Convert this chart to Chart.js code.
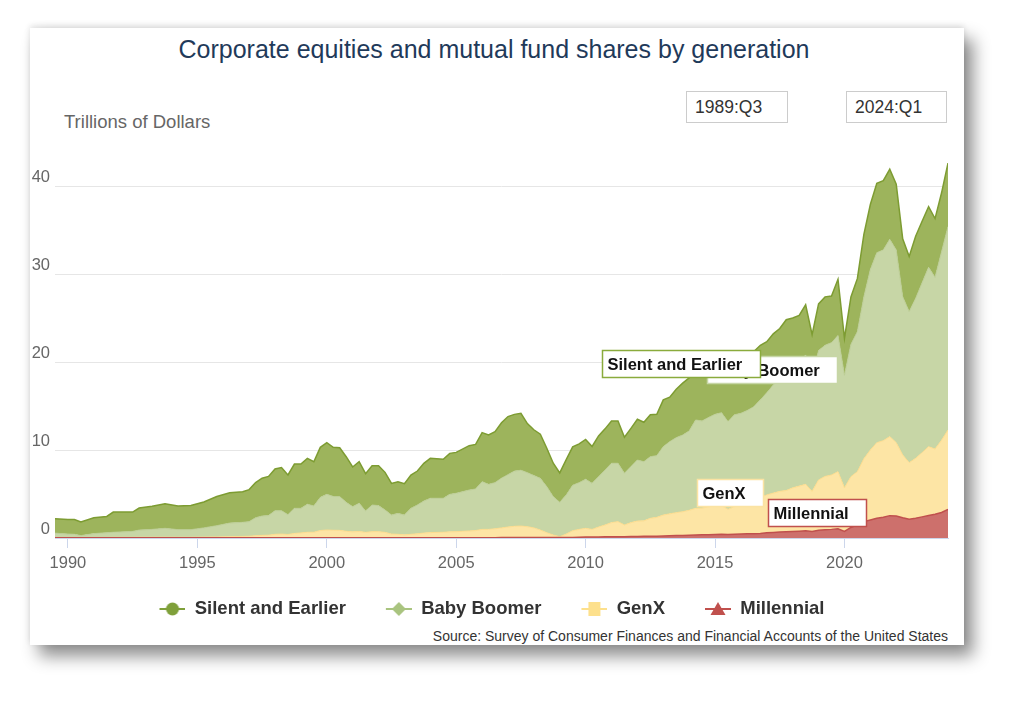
<!DOCTYPE html>
<html>
<head>
<meta charset="utf-8">
<title>Corporate equities and mutual fund shares by generation</title>
<script src="https://cdn.jsdelivr.net/npm/chart.js@4.4.1/dist/chart.umd.min.js"></script>
<style>
body{margin:0;width:1024px;height:706px;background:#fff;position:relative;overflow:hidden;font-family:"Liberation Sans",Arial,sans-serif;}
#card{position:absolute;left:30px;top:28px;width:934px;height:617px;background:#fff;
  box-shadow:0 -2px 6px rgba(0,0,0,0.12),9px 11px 16px rgba(0,0,0,0.45);}
#title{position:absolute;left:0;width:988px;top:34px;line-height:30px;text-align:center;font-size:25px;color:#1f3a5a;}
#unit{position:absolute;left:64px;top:111px;line-height:22px;font-size:18.5px;color:#666;}
.range{position:absolute;top:91px;height:30px;border:1px solid #ccc;font-size:17.5px;line-height:30px;color:#333;padding-left:8px;box-sizing:content-box;}
#source{position:absolute;right:76px;top:628px;font-size:14px;line-height:16px;color:#333;}
canvas{position:absolute;left:0;top:0;}
</style>
</head>
<body>
<div id="card"></div>
<div id="title">Corporate equities and mutual fund shares by generation</div>
<div id="unit">Trillions of Dollars</div>
<div class="range" style="left:686px;width:92px;">1989:Q3</div>
<div class="range" style="left:846px;width:91px;">2024:Q1</div>
<div id="source">Source: Survey of Consumer Finances and Financial Accounts of the United States</div>
<canvas id="chart" width="1024" height="706"></canvas>
<script>
// trillions of dollars
var quarters = ['1989:Q3','1990:Q1','1990:Q2','1990:Q3','1991:Q1','1991:Q3','1991:Q4','1992:Q3','1992:Q4','1993:Q2',
  '1993:Q4','1994:Q2','1994:Q4','1995:Q2','1995:Q4','1996:Q2','1996:Q4','1997:Q1','1997:Q2','1997:Q3',
  '1997:Q4','1998:Q1','1998:Q2','1998:Q3','1998:Q4','1999:Q1','1999:Q2','1999:Q3','1999:Q4','2000:Q1',
  '2000:Q2','2000:Q3','2000:Q4','2001:Q1','2001:Q2','2001:Q3','2001:Q4','2002:Q1','2002:Q2','2002:Q3',
  '2002:Q4','2003:Q1','2003:Q2','2003:Q3','2003:Q4','2004:Q1','2004:Q3','2004:Q4','2005:Q1','2005:Q3',
  '2005:Q4','2006:Q1','2006:Q2','2006:Q3','2006:Q4','2007:Q1','2007:Q2','2007:Q3','2007:Q4','2008:Q1',
  '2008:Q2','2008:Q3','2008:Q4','2009:Q1','2009:Q2','2009:Q3','2009:Q4','2010:Q1','2010:Q2','2010:Q3',
  '2010:Q4','2011:Q1','2011:Q2','2011:Q3','2011:Q4','2012:Q1','2012:Q2','2012:Q3','2012:Q4','2013:Q1',
  '2013:Q2','2013:Q3','2013:Q4','2014:Q1','2014:Q2','2014:Q3','2014:Q4','2015:Q1','2015:Q2','2015:Q3',
  '2015:Q4','2016:Q1','2016:Q2','2016:Q3','2016:Q4','2017:Q1','2017:Q2','2017:Q3','2017:Q4','2018:Q1',
  '2018:Q2','2018:Q3','2018:Q4','2019:Q1','2019:Q2','2019:Q3','2019:Q4','2020:Q1','2020:Q2','2020:Q3',
  '2020:Q4','2021:Q1','2021:Q2','2021:Q3','2021:Q4','2022:Q1','2022:Q2','2022:Q3','2022:Q4','2023:Q1',
  '2023:Q2','2023:Q3','2023:Q4','2024:Q1'];

var silent = [1.65,1.65,1.68,1.55,1.80,1.85,2.30,2.20,2.50,2.62,
  2.80,2.70,2.75,2.95,3.32,3.45,3.47,3.64,4.00,4.30,
  4.45,4.74,4.90,4.51,5.03,5.04,5.22,5.03,5.68,5.87,
  5.58,5.55,5.19,4.51,4.73,4.24,4.47,4.54,4.28,3.60,
  3.60,3.56,3.79,3.86,4.29,4.54,4.43,4.66,4.65,5.04,
  5.07,5.57,5.60,5.79,6.30,6.60,6.45,6.47,5.58,5.20,
  5.02,4.37,3.80,3.35,4.01,4.35,4.41,4.53,4.19,4.63,
  4.67,4.81,4.81,4.10,4.35,4.64,4.48,4.76,4.69,5.32,
  5.05,5.50,5.90,6.04,5.39,6.00,6.10,6.05,6.16,6.18,
  6.00,5.53,6.00,6.28,6.20,5.80,5.81,5.80,6.16,5.80,
  5.30,5.70,4.80,5.30,5.50,5.30,6.40,4.20,5.40,6.05,
  7.10,7.40,7.88,7.87,7.96,7.47,6.58,6.28,7.07,7.00,
  6.89,6.68,6.70,7.22];

var boomer = [0.49,0.39,0.36,0.22,0.44,0.54,0.58,0.68,0.82,0.90,
  1.01,0.87,0.87,1.05,1.28,1.55,1.60,1.66,2.04,2.20,
  2.23,2.68,2.65,2.25,2.85,2.79,3.18,2.99,3.77,4.05,
  3.84,3.83,3.29,2.86,3.20,2.43,3.03,2.96,2.54,2.16,
  2.38,2.25,2.95,3.27,3.64,3.89,3.86,4.26,4.36,4.65,
  4.72,5.42,5.12,5.24,5.65,5.95,6.27,6.34,6.13,5.95,
  5.87,5.23,4.36,3.90,4.44,5.17,5.31,5.57,5.23,5.72,
  6.25,6.74,6.63,5.87,6.36,6.93,6.72,7.00,7.01,7.77,
  8.20,8.52,8.71,9.01,10.04,9.90,10.15,10.41,10.56,9.96,
  10.44,10.47,10.60,10.82,11.10,11.60,12.29,12.70,13.24,13.50,
  14.10,14.70,13.00,14.70,14.90,15.04,15.46,12.80,15.03,15.91,
  18.40,20.50,21.59,21.67,22.42,21.90,17.99,17.16,18.18,19.30,
  20.38,19.51,21.40,23.11];

var genx = [0.04,0.04,0.04,0.03,0.04,0.04,0.05,0.05,0.06,0.06,
  0.07,0.06,0.06,0.08,0.10,0.13,0.16,0.18,0.24,0.28,
  0.30,0.40,0.43,0.38,0.50,0.56,0.62,0.62,0.82,0.88,
  0.85,0.84,0.73,0.67,0.71,0.61,0.69,0.69,0.61,0.42,
  0.39,0.33,0.39,0.45,0.53,0.59,0.62,0.67,0.69,0.76,
  0.81,0.94,0.94,1.01,1.10,1.20,1.28,1.31,1.24,1.10,
  0.86,0.55,0.29,0.10,0.39,0.76,0.90,1.00,0.88,1.13,
  1.35,1.60,1.71,1.33,1.58,1.75,1.76,2.04,2.14,2.38,
  2.50,2.61,2.70,2.84,3.03,3.04,3.17,3.24,3.26,2.86,
  3.12,3.25,3.43,3.61,4.08,4.30,4.47,4.63,4.70,4.96,
  5.12,5.28,4.55,5.72,6.07,6.18,6.49,4.95,5.77,6.04,
  7.14,7.95,8.59,8.71,8.98,8.33,7.13,6.44,6.81,7.30,
  7.83,7.42,8.20,9.01];

var millennial = [0.02,0.02,0.02,0.02,0.02,0.02,0.02,0.02,0.02,0.02,
  0.02,0.02,0.02,0.02,0.02,0.02,0.02,0.02,0.02,0.02,
  0.02,0.02,0.02,0.02,0.02,0.02,0.03,0.03,0.03,0.03,
  0.03,0.03,0.03,0.03,0.03,0.03,0.03,0.03,0.03,0.03,
  0.03,0.03,0.03,0.03,0.03,0.03,0.03,0.03,0.03,0.04,
  0.04,0.04,0.04,0.04,0.05,0.05,0.05,0.05,0.05,0.05,
  0.05,0.05,0.05,0.05,0.06,0.07,0.08,0.10,0.10,0.12,
  0.13,0.15,0.15,0.15,0.17,0.18,0.19,0.20,0.21,0.23,
  0.25,0.27,0.29,0.31,0.34,0.36,0.38,0.40,0.42,0.40,
  0.44,0.45,0.47,0.49,0.52,0.60,0.63,0.67,0.70,0.74,
  0.78,0.82,0.75,0.88,0.93,0.98,1.05,0.75,1.20,1.50,
  1.86,2.05,2.24,2.35,2.54,2.50,2.30,2.12,2.24,2.40,
  2.55,2.69,2.90,3.26];

var xTicks = [1990, 1995, 2000, 2005, 2010, 2015, 2020];
var yTicks = [0, 10, 20, 30, 40];

// quarter string -> position on the year axis (Q1 = .0, Q3 = .5)
function qx(q) {
  var p = q.split(':Q');
  return +p[0] + (p[1] - 1) / 4;
}
function pts(values) {
  return values.map(function (v, i) { return { x: qx(quarters[i]), y: v }; });
}

// legend symbol: line with a marker, 13px of blank space on the left to widen the item gap
function legendIcon(kind, color) {
  var c = document.createElement('canvas');
  c.width = 39; c.height = 18;
  var g = c.getContext('2d');
  g.translate(13, 0);
  g.strokeStyle = color; g.lineWidth = 2;
  g.beginPath(); g.moveTo(0, 9); g.lineTo(26, 9); g.stroke();
  g.fillStyle = color;
  g.beginPath();
  if (kind === 'circle') g.arc(13, 9, 6.5, 0, Math.PI * 2);
  else if (kind === 'diamond') { g.moveTo(13, 2); g.lineTo(20, 9); g.lineTo(13, 16); g.lineTo(6, 9); g.closePath(); }
  else if (kind === 'square') g.rect(7, 2, 12, 14);
  else { g.moveTo(13, 2); g.lineTo(20.5, 15); g.lineTo(5.5, 15); g.closePath(); }
  g.fill();
  return c;
}

// boxed series names, placed by their top-left corner in data units
var labelBoxes = [
  { text: 'Baby Boomer', year: 2014.70, value: 20.68, color: '#c7d6a6' },
  { text: 'Silent and Earlier', year: 2010.62, value: 21.36, color: '#8aab3c' },
  { text: 'GenX', year: 2014.29, value: 6.67, color: '#fbe3a3' },
  { text: 'Millennial', year: 2017.04, value: 4.40, color: '#c0504d' }
];

var seriesLabels = {
  id: 'seriesLabels',
  afterDatasetsDraw: function (chart) {
    var ctx = chart.ctx, x = chart.scales.x, y = chart.scales.y;
    ctx.save();
    ctx.font = 'bold 16.5px "Liberation Sans", Arial, sans-serif';
    ctx.textBaseline = 'middle';
    labelBoxes.forEach(function (l) {
      var left = Math.round(x.getPixelForValue(l.year)) + 0.5;
      var top = Math.round(y.getPixelForValue(l.value)) + 0.5;
      var w = Math.round(ctx.measureText(l.text).width) + 23, h = 27;
      ctx.fillStyle = '#fff';
      ctx.fillRect(left, top, w, h);
      ctx.lineWidth = 1.5;
      ctx.strokeStyle = l.color;
      ctx.strokeRect(left, top, w, h);
      ctx.fillStyle = '#111';
      ctx.fillText(l.text, left + 5, top + h / 2 + 1);
    });
    ctx.restore();
  }
};

var font = '"Liberation Sans", Arial, sans-serif';

new Chart(document.getElementById('chart'), {
  type: 'line',
  data: {
    datasets: [{
      label: 'Millennial',
      data: pts(millennial),
      backgroundColor: '#cd706c',
      borderColor: '#c0504d',
      borderWidth: 1.5,
      pointStyle: legendIcon('triangle', '#c0504d'),
      fill: 'origin'
    }, {
      label: 'GenX',
      data: pts(genx),
      backgroundColor: '#fde5a5',
      borderColor: '#fcdc8e',
      borderWidth: 1,
      pointStyle: legendIcon('square', '#fde08c'),
      fill: '-1'
    }, {
      label: 'Baby Boomer',
      data: pts(boomer),
      backgroundColor: '#c7d6a6',
      borderColor: '#bccd95',
      borderWidth: 1,
      pointStyle: legendIcon('diamond', '#a9c47f'),
      fill: '-1'
    }, {
      label: 'Silent and Earlier',
      data: pts(silent),
      backgroundColor: '#9db45c',
      borderColor: '#7d9c32',
      borderWidth: 1.5,
      pointStyle: legendIcon('circle', '#7fa03a'),
      fill: '-1'
    }]
  },
  options: {
    responsive: false,
    animation: false,
    layout: { padding: { top: 142, left: 0, right: 53, bottom: 77.75 } },
    elements: { point: { radius: 0, hoverRadius: 0 }, line: { tension: 0 } },
    plugins: {
      tooltip: { enabled: false },
      legend: {
        position: 'bottom',
        reverse: true,
        labels: {
          usePointStyle: true,
          pointStyleWidth: 39,
          padding: 27,
          color: '#333',
          font: { family: font, size: 18.5, weight: 'bold' }
        }
      }
    },
    scales: {
      x: {
        type: 'linear',
        min: qx(quarters[0]),
        max: qx(quarters[quarters.length - 1]),
        afterBuildTicks: function (s) { s.ticks = xTicks.map(function (v) { return { value: v }; }); },
        afterFit: function (s) { s.height = 34.75; },
        grid: { drawOnChartArea: false, drawTicks: true, tickLength: 10, color: '#ccd6eb' },
        border: { color: '#ccd6eb' },
        ticks: {
          color: '#666', padding: 6, maxRotation: 0,
          font: { family: font, size: 16.5 },
          callback: function (v) { return String(v); }
        }
      },
      y: {
        stacked: true,
        min: 0,
        max: 45,
        afterBuildTicks: function (s) { s.ticks = yTicks.map(function (v) { return { value: v }; }); },
        afterFit: function (s) { s.width = 55; },
        grid: {
          drawTicks: false,
          color: function (c) { return c.tick && c.tick.value === 0 ? 'rgba(0,0,0,0)' : '#e6e6e6'; }
        },
        border: { display: false },
        ticks: { color: '#666', padding: 5, labelOffset: -9, font: { family: font, size: 16.5 } }
      },
      // empty right-hand spacer so the plot ends where the original does
      pad: {
        type: 'linear',
        position: 'right',
        afterFit: function (s) { s.width = 23; },
        grid: { display: false },
        border: { display: false },
        ticks: { display: false }
      }
    }
  },
  plugins: [seriesLabels]
});
</script>
</body>
</html>
